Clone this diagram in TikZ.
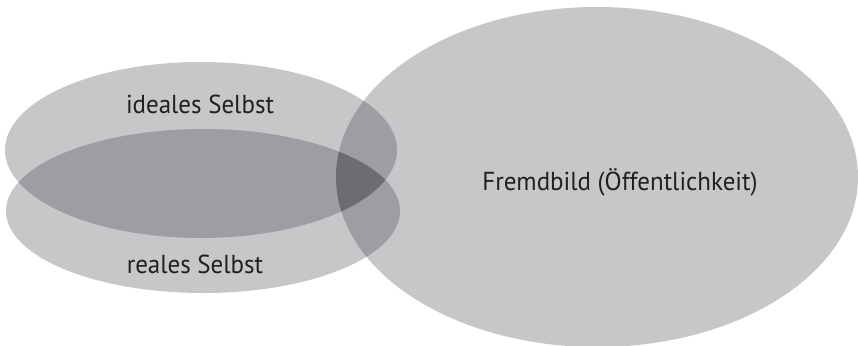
\documentclass[tikz,border=0pt]{standalone}
\usepackage{fontspec}
\setmainfont{PT Sans}[FakeStretch=0.96]
\definecolor{cSingle}{RGB}{198,199,201}
\definecolor{cDouble}{RGB}{157,158,162}
\definecolor{cTriple}{RGB}{108,109,114}
\definecolor{cText}{RGB}{35,31,32}
\def\ellA{(201,150) ellipse [x radius=196pt, y radius=88pt]}
\def\ellB{(203,211) ellipse [x radius=197pt, y radius=82pt]}
\def\ellC{(597,177) ellipse [x radius=261pt, y radius=170pt]}
\tikzset{lbl/.style={anchor=base, text=cText, font=\fontsize{26}{30}\selectfont, inner sep=0pt}}
\begin{document}
\begin{tikzpicture}[x=1pt,y=-1pt]
\useasboundingbox (0,0) rectangle (858,345);
\fill[white] (0,0) rectangle (858,345);
\fill[cSingle] \ellA;
\fill[cSingle] \ellB;
\fill[cSingle] \ellC;
\begin{scope}\clip \ellA; \fill[cDouble] \ellB; \end{scope}
\begin{scope}\clip \ellA; \fill[cDouble] \ellC; \end{scope}
\begin{scope}\clip \ellB; \fill[cDouble] \ellC; \end{scope}
\begin{scope}\clip \ellA; \clip \ellB; \fill[cTriple] \ellC; \end{scope}
\node[lbl] (ideal) at (200,113) {ideales Selbst};
\node[lbl] (real) at (195,273) {reales Selbst};
\node[lbl] (fremd) at (620,190) {Fremdbild (Öffentlichkeit)};
\end{tikzpicture}
\end{document}
